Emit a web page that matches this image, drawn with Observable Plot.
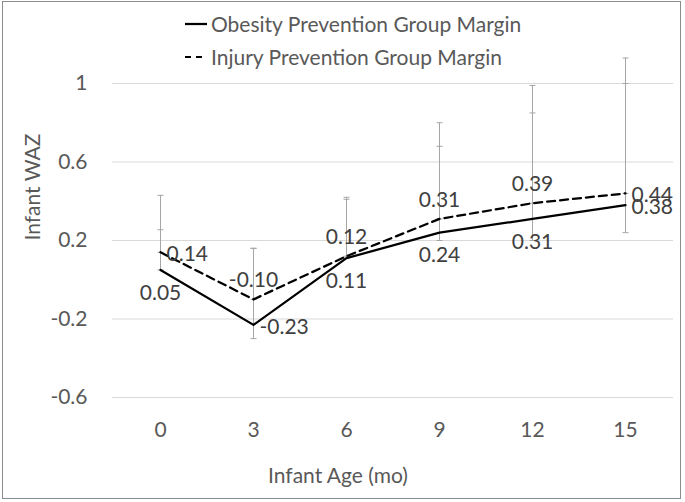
<!DOCTYPE html>
<html>
<head>
<meta charset="utf-8">
<script src="https://cdn.jsdelivr.net/npm/d3@7"></script>
<script src="https://cdn.jsdelivr.net/npm/@observablehq/plot@0.6"></script>
<style>
  html, body { margin: 0; padding: 0; background: #fff; }
  #wrap { position: relative; width: 685px; height: 502px; font-family: Lato, "Open Sans", sans-serif; }
  #border { position: absolute; left: 2px; top: 1px; width: 677px; height: 496px; border: 1.5px solid #8c8c8c; pointer-events: none; }
  #legend { position: absolute; left: 184px; top: 7px; color: #595959; font-size: 21px; line-height: 33px; }
  #legend .item { display: flex; align-items: center; white-space: nowrap; }
  #legend svg { margin-right: 3px; }
</style>
</head>
<body>
<div id="wrap">
  <div id="chart"></div>
  <div id="legend"></div>
  <div id="border"></div>
</div>
<script>
// ---- data ----
const ages = ["0", "3", "6", "9", "12", "15"];
const seriesNames = ["Obesity Prevention Group Margin", "Injury Prevention Group Margin"];
const obesity = [0.05, -0.23, 0.11, 0.24, 0.31, 0.38];
const injury = [0.14, -0.10, 0.12, 0.31, 0.39, 0.44];
const obesityLow = [0.05, -0.30, 0.11, 0.20, 0.20, 0.24];
const obesityHigh = [0.255, 0.16, 0.41, 0.68, 0.85, 1.00];
const injuryLow = [0.14, -0.10, 0.12, 0.31, 0.39, 0.44];
const injuryHigh = [0.43, 0.16, 0.42, 0.80, 0.99, 1.13];
const yTicks = [-0.6, -0.2, 0.2, 0.6, 1];
const obesityLabelPos = ["below", "right", "below", "below", "below", "right"];
const injuryLabelPos = ["right", "above", "above", "above", "above", "right"];

// ---- tables ----
const rows = [];
ages.forEach((a, i) => {
  rows.push({age: a, series: seriesNames[0], value: obesity[i], lo: obesityLow[i], hi: obesityHigh[i], pos: obesityLabelPos[i]});
  rows.push({age: a, series: seriesNames[1], value: injury[i], lo: injuryLow[i], hi: injuryHigh[i], pos: injuryLabelPos[i]});
});
const caps = rows.flatMap(r => [{age: r.age, v: r.lo}, {age: r.age, v: r.hi}]);
const obRows = rows.filter(r => r.series === seriesNames[0]);
const inRows = rows.filter(r => r.series === seriesNames[1]);

const capSymbol = {draw(ctx) { ctx.moveTo(-3, 0); ctx.lineTo(3, 0); }};
const FS = 21;
const textFill = "#595959";
const fmt = d => d.toFixed(2);

const chart = Plot.plot({
  width: 685,
  height: 502,
  marginLeft: 112,
  marginRight: 12,
  marginTop: 83,
  marginBottom: 105,
  style: {fontFamily: "Lato, 'Open Sans', sans-serif", background: "#fff", overflow: "visible"},
  x: {type: "point", domain: ages, padding: 0.5},
  y: {domain: [-0.6, 1]},
  marks: [
    Plot.ruleY(yTicks, {stroke: "#d9d9d9", strokeWidth: 1}),
    Plot.axisY({ticks: yTicks, tickSize: 0, tickPadding: 25, tickFormat: d => String(d), fontSize: FS, fill: textFill, label: null}),
    Plot.axisX({tickSize: 0, tickPadding: 25, fontSize: FS, fill: textFill, label: null}),
    Plot.ruleX(rows, {x: "age", y1: "lo", y2: "hi", stroke: "#a6a6a6", strokeWidth: 1}),
    Plot.dot(caps, {x: "age", y: "v", symbol: capSymbol, stroke: "#a6a6a6", strokeWidth: 1, fill: "none"}),
    Plot.line(obRows, {x: "age", y: "value", stroke: "#000", strokeWidth: 2.25}),
    Plot.line(inRows, {x: "age", y: "value", stroke: "#000", strokeWidth: 2.25, strokeDasharray: "8,5"}),
    Plot.text(rows.filter(r => r.pos === "below"), {x: "age", y: "value", text: d => fmt(d.value), dy: 23, fontSize: FS, fill: "#404040"}),
    Plot.text(rows.filter(r => r.pos === "above"), {x: "age", y: "value", text: d => fmt(d.value), dy: -19, fontSize: FS, fill: "#404040"}),
    Plot.text(rows.filter(r => r.pos === "right"), {x: "age", y: "value", text: d => fmt(d.value), dx: 6, dy: 2, textAnchor: "start", fontSize: FS, fill: "#404040"}),
    Plot.text(["Infant WAZ"], {frameAnchor: "left", text: d => d, rotate: -90, dx: -79, fontSize: FS, fill: textFill}),
    Plot.text(["Infant Age (mo)"], {frameAnchor: "bottom", text: d => d, dx: -55, dy: 85, fontSize: FS, fill: textFill})
  ]
});
document.getElementById("chart").appendChild(chart);

// ---- legend ----
const legend = d3.select("#legend");
seriesNames.forEach((name, i) => {
  const item = legend.append("div").attr("class", "item");
  const sw = item.append("svg").attr("width", 24).attr("height", 10);
  sw.append("line").attr("x1", 1).attr("x2", 23).attr("y1", 5).attr("y2", 5)
    .attr("stroke", "#000").attr("stroke-width", i === 0 ? 2.25 : 2)
    .attr("stroke-dasharray", i === 0 ? null : "6,5");
  item.append("span").text(name);
});
</script>
</body>
</html>
